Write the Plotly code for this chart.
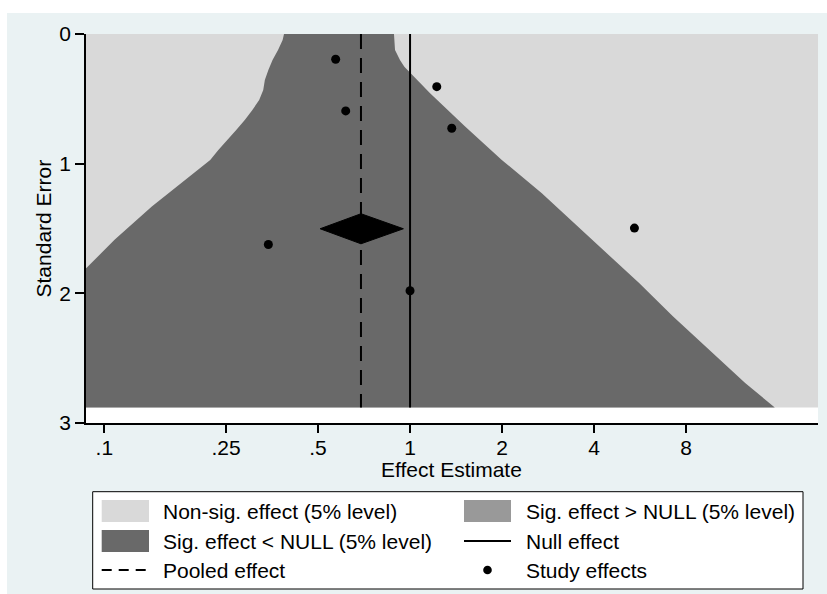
import math
import plotly.graph_objects as go

# ---- Study data (effect ratio on log scale, standard error) ----
study_effect = [0.571, 0.616, 0.344, 1.223, 1.369, 5.42, 1.0]
study_se = [0.195, 0.593, 1.623, 0.406, 0.727, 1.497, 1.980]

# ---- Pooled (meta-analysis) result ----
pooled_effect = 0.691
pooled_ci_low = 0.508
pooled_ci_high = 0.951
diamond_se = 1.502
diamond_half_height = 0.116
null_effect = 1.0

# ---- Extended funnel contours: region where a new study makes the
#      pooled effect significantly < NULL (between the two bounds) ----
lower_bound_se = [0.0, 0.046, 0.123, 0.200, 0.277, 0.354, 0.432, 0.509, 0.586,
                  0.663, 0.740, 0.817, 0.894, 0.971, 1.073, 1.331, 1.587, 1.801, 2.88]
lower_bound_effect = [0.387, 0.383, 0.370, 0.355, 0.344, 0.335, 0.331, 0.321, 0.305,
                      0.288, 0.270, 0.252, 0.236, 0.222, 0.196, 0.143, 0.108, 0.0877, 0.0269]
upper_bound_se = [0.0, 0.123, 0.200, 0.252, 0.303, 0.457, 0.714, 0.971, 1.228,
                  1.485, 1.716, 1.921, 2.178, 2.435, 2.692, 2.88]
upper_bound_effect = [0.886, 0.893, 0.927, 0.958, 1.0, 1.163, 1.514, 1.996, 2.698,
                      3.554, 4.513, 5.614, 7.253, 9.51, 12.48, 15.6]

# Extent of the simulation grid
grid_effect_min = 0.0871
grid_effect_max = 21.6
grid_se_max = 2.88

# Axis ticks
x_tick_vals = [0.1, 0.25, 0.5, 1, 2, 4, 8]
x_tick_text = [".1", ".25", ".5", "1", "2", "4", "8"]
y_tick_vals = [0, 1, 2, 3]

# Legend entries
legend_labels = ["Non-sig. effect (5% level)", "Sig. effect > NULL (5% level)",
                 "Sig. effect < NULL (5% level)", "Null effect",
                 "Pooled effect", "Study effects"]

LIGHT = "#d9d9d9"
DARK = "#696969"
MID = "#999999"
BG = "#eaf2f3"
FONT = "Liberation Sans, Arial, sans-serif"
FS = 21

W, H = 827, 594
ML, MR, MT, MB = 86, 9, 34, 171
PW, PH = W - ML - MR, H - MT - MB


def px(x):
    return (x - ML) / PW


def py(y):
    return (H - MB - y) / PH


fig = go.Figure()

# Non-significant background region (whole grid)
fig.add_trace(go.Scatter(
    x=[grid_effect_min, grid_effect_max, grid_effect_max, grid_effect_min, grid_effect_min],
    y=[0, 0, grid_se_max, grid_se_max, 0],
    fill="toself", fillcolor=LIGHT, mode="lines", line=dict(width=0),
    hoverinfo="skip", showlegend=False))

# Significant < NULL region
poly_x = lower_bound_effect + upper_bound_effect[::-1] + [lower_bound_effect[0]]
poly_y = lower_bound_se + upper_bound_se[::-1] + [lower_bound_se[0]]
fig.add_trace(go.Scatter(
    x=poly_x, y=poly_y, fill="toself", fillcolor=DARK, mode="lines",
    line=dict(width=0), hoverinfo="skip", showlegend=False))

# Null effect line
fig.add_trace(go.Scatter(
    x=[null_effect, null_effect], y=[0, grid_se_max], mode="lines",
    line=dict(color="black", width=2), showlegend=False))

# Pooled effect line
fig.add_trace(go.Scatter(
    x=[pooled_effect, pooled_effect], y=[0, grid_se_max], mode="lines",
    line=dict(color="black", width=2, dash="15px,9px"), showlegend=False))

# Pooled estimate diamond
fig.add_trace(go.Scatter(
    x=[pooled_ci_low, pooled_effect, pooled_ci_high, pooled_effect, pooled_ci_low],
    y=[diamond_se, diamond_se - diamond_half_height, diamond_se,
       diamond_se + diamond_half_height, diamond_se],
    fill="toself", fillcolor="black", mode="lines", line=dict(color="black", width=1),
    showlegend=False))

# Study effects
fig.add_trace(go.Scatter(
    x=study_effect, y=study_se, mode="markers",
    marker=dict(color="black", size=9), showlegend=False))

shapes = [
    # white margin strips around the graph region
    dict(type="rect", xref="paper", yref="paper", x0=px(0), x1=px(W), y0=py(13), y1=py(0),
         fillcolor="white", line=dict(width=0), layer="below"),
    dict(type="rect", xref="paper", yref="paper", x0=px(0), x1=px(7), y0=py(H), y1=py(0),
         fillcolor="white", line=dict(width=0), layer="below"),
    # legend box
    dict(type="rect", xref="paper", yref="paper", x0=px(92.7), x1=px(803), y0=py(589), y1=py(491.7),
         fillcolor="white", line=dict(color="black", width=1)),
    # legend keys
    dict(type="rect", xref="paper", yref="paper", x0=px(101.7), x1=px(149), y0=py(522), y1=py(500),
         fillcolor=LIGHT, line=dict(width=0)),
    dict(type="rect", xref="paper", yref="paper", x0=px(464), x1=px(511), y0=py(522), y1=py(500),
         fillcolor=MID, line=dict(width=0)),
    dict(type="rect", xref="paper", yref="paper", x0=px(101.7), x1=px(149), y0=py(552), y1=py(530),
         fillcolor=DARK, line=dict(width=0)),
    dict(type="line", xref="paper", yref="paper", x0=px(464), x1=px(511), y0=py(541), y1=py(541),
         line=dict(color="black", width=2)),
    dict(type="line", xref="paper", yref="paper", x0=px(101.7), x1=px(148.3), y0=py(570), y1=py(570),
         line=dict(color="black", width=2, dash="10px,7px")),
    dict(type="circle", xref="paper", yref="paper", x0=px(483.2), x1=px(491.8), y0=py(574.3), y1=py(565.7),
         fillcolor="black", line=dict(width=0)),
]

annotations = [
    dict(text="Effect Estimate", xref="paper", yref="paper", x=px(451), y=py(469),
         xanchor="center", yanchor="middle", showarrow=False, font=dict(size=FS)),
    dict(text="Standard Error", xref="paper", yref="paper", x=px(43), y=py(228.5),
         xanchor="center", yanchor="middle", textangle=-90, showarrow=False, font=dict(size=FS)),
]
legend_pos = [(161, 511), (524, 511), (161, 541), (524, 541), (161, 570), (524, 570)]
for label, (lx, ly) in zip(legend_labels, legend_pos):
    annotations.append(dict(text=label, xref="paper", yref="paper", x=px(lx), y=py(ly),
                            xanchor="left", yanchor="middle", showarrow=False,
                            font=dict(size=FS)))

fig.update_layout(
    width=W, height=H,
    margin=dict(l=ML, r=MR, t=MT, b=MB),
    paper_bgcolor=BG, plot_bgcolor="white",
    font=dict(family=FONT, size=FS, color="black"),
    shapes=shapes, annotations=annotations,
    xaxis=dict(type="log", range=[math.log10(grid_effect_min), math.log10(grid_effect_max)],
               tickvals=x_tick_vals, ticktext=x_tick_text, ticks="outside", ticklen=8,
               tickwidth=1.5, tickcolor="black", showline=True, linecolor="black",
               linewidth=1.5, showgrid=False, zeroline=False, fixedrange=True,
               tickfont=dict(size=FS), ticklabelstandoff=-3),
    yaxis=dict(range=[3, 0], tickvals=y_tick_vals, ticks="outside", ticklen=9,
               tickwidth=1.5, tickcolor="black", showline=True, linecolor="black",
               linewidth=1.5, showgrid=False, zeroline=False, fixedrange=True,
               tickfont=dict(size=FS)),
)

fig.write_html("out.html")
